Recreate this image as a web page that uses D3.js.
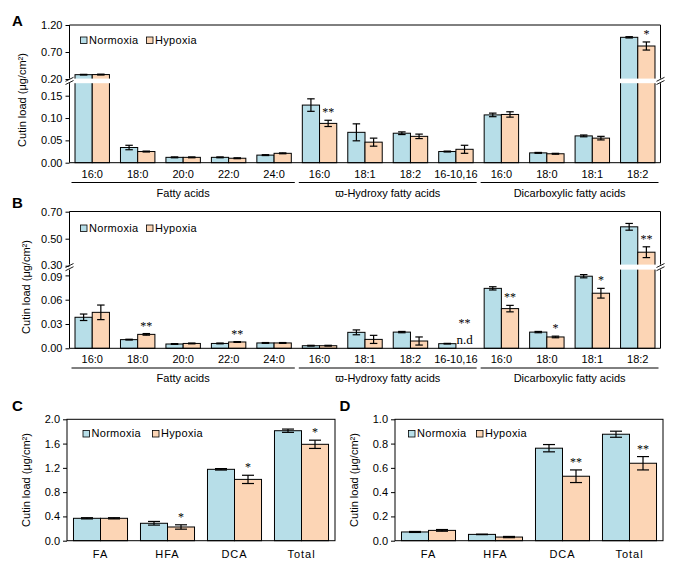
<!DOCTYPE html>
<html><head><meta charset="utf-8">
<script src="https://cdn.jsdelivr.net/npm/d3@7"></script>
<style>body{margin:0;background:#fff}</style>
</head><body>
<svg id="c" width="677" height="567"></svg>
<script>
// ---------- data ----------
const groupNames = ["Fatty acids", "ϖ-Hydroxy fatty acids", "Dicarboxylic fatty acids"];
const monomers = ["16:0","18:0","20:0","22:0","24:0","16:0","18:1","18:2","16-10,16","16:0","18:0","18:1","18:2"];
const monomerGroup = [0,0,0,0,0,1,1,1,1,2,2,2,2];
const seriesNames = ["Normoxia","Hypoxia"];

// Panel A
const aNorm    = [0.280,0.034,0.012,0.012,0.017,0.129,0.068,0.066,0.025,0.107,0.022,0.060,0.972];
const aNormErr = [0.006,0.005,0.001,0.001,0.001,0.014,0.019,0.003,0.001,0.004,0.001,0.002,0.012];
const aHyp     = [0.282,0.025,0.012,0.010,0.021,0.088,0.046,0.059,0.030,0.108,0.020,0.055,0.811];
const aHypErr  = [0.008,0.001,0.001,0.001,0.001,0.007,0.009,0.005,0.009,0.006,0.001,0.004,0.075];
const aSig     = ["","","","","","**","","","","","","","*"];
const aTicksLow = [0,0.05,0.10,0.15];
const aTicksUp  = [0.20,0.70,1.20];

// Panel B
const bNorm    = [0.0383,0.0107,0.0053,0.0060,0.0066,0.0032,0.0197,0.0200,0.0057,0.0740,0.0200,0.0890,0.588];
const bNormErr = [0.0040,0.0005,0.0005,0.0005,0.0005,0.0005,0.0030,0.0008,0.0004,0.0020,0.0008,0.0020,0.025];
const bHyp     = [0.0444,0.0172,0.0060,0.0078,0.0066,0.0032,0.0110,0.0090,null,0.0490,0.0140,0.0680,0.400];
const bHypErr  = [0.0090,0.0010,0.0005,0.0005,0.0005,0.0005,0.0050,0.0050,null,0.0040,0.0010,0.0060,0.040];
const bSig     = ["","**","","**","","","","","**","**","*","*","**"];
const bTicksLow = [0,0.03,0.06,0.09];
const bTicksUp  = [0.30,0.50,0.70];

// Panels C and D
const classes = ["FA","HFA","DCA","Total"];
const cNorm    = [0.369,0.287,1.176,1.812];
const cNormErr = [0.010,0.030,0.012,0.027];
const cHyp     = [0.369,0.226,1.010,1.588];
const cHypErr  = [0.010,0.036,0.068,0.068];
const cSig     = ["","*","*","*"];
const cTicks   = [0,0.4,0.8,1.2,1.6,2.0];

const dNorm    = [0.072,0.052,0.762,0.877];
const dNormErr = [0.004,0.002,0.030,0.025];
const dHyp     = [0.085,0.030,0.531,0.638];
const dHypErr  = [0.007,0.005,0.052,0.055];
const dSig     = ["","","**","**"];
const dTicks   = [0,0.2,0.4,0.6,0.8,1.0];

// ---------- drawing ----------
const BLUE = "#b7dee8", ORANGE = "#fcd5b5";
const SANS = "'Liberation Sans', Arial, sans-serif";
const SERIF = "'Liberation Serif', 'Times New Roman', serif";
const svg = d3.select("#c");
svg.append("rect").attr("width",677).attr("height",567).attr("fill","#fff");

function drawPanel(o){
  const g = svg.append("g");
  const n = o.cats.length;
  const x0 = d3.scaleBand().domain(d3.range(n)).range([o.left,o.right]);
  const x1 = d3.scaleBand().domain(seriesNames).range([0,x0.bandwidth()]).paddingOuter(o.outer);
  const low = d3.scaleLinear().domain(o.lowDom).range(o.lowRange);
  const up = o.upDom ? d3.scaleLinear().domain(o.upDom).range(o.upRange) : null;
  const y = v => (up && v > o.split) ? up(v) : low(v);

  const series = [
    {name:"Normoxia", vals:o.norm, err:o.normErr, fill:BLUE},
    {name:"Hypoxia", vals:o.hyp, err:o.hypErr, fill:ORANGE}
  ];
  series.forEach(s=>{
    const data = s.vals.map((v,i)=>({v, e:s.err[i], i})).filter(d=>d.v!=null);
    const sg = g.append("g");
    sg.selectAll("rect").data(data).join("rect")
      .attr("x", d=>x0(d.i)+x1(s.name))
      .attr("width", x1.bandwidth())
      .attr("y", d=>y(d.v))
      .attr("height", d=>y(0)-y(d.v))
      .attr("fill", s.fill).attr("stroke","#000").attr("stroke-width",1);
    const eg = sg.selectAll("g.err").data(data).join("g").attr("class","err");
    const cx = d=>x0(d.i)+x1(s.name)+x1.bandwidth()/2;
    eg.append("line").attr("x1",cx).attr("x2",cx)
      .attr("y1",d=>y(d.v+d.e)).attr("y2",d=>y(Math.max(0,d.v-d.e)))
      .attr("stroke","#000").attr("stroke-width",1.2);
    [1,-1].forEach(sgn=>{
      eg.append("line").attr("x1",d=>cx(d)-o.cap/2).attr("x2",d=>cx(d)+o.cap/2)
        .attr("y1",d=>y(Math.max(0,d.v+sgn*d.e))).attr("y2",d=>y(Math.max(0,d.v+sgn*d.e)))
        .attr("stroke","#000").attr("stroke-width",1.2);
    });
  });

  // white break band
  if (o.band){
    g.append("rect").attr("x",o.left-6).attr("width",o.right-o.left+12)
      .attr("y",o.band[0]).attr("height",o.band[1]-o.band[0]).attr("fill","#fff");
  }

  // frame
  const top = o.top, bottom = o.lowRange[0];
  if (o.band){
    [[top,o.band[0]],[o.band[1],bottom]].forEach(([a,b])=>{
      [o.left,o.right].forEach(xx=>g.append("line").attr("x1",xx).attr("x2",xx).attr("y1",a).attr("y2",b).attr("stroke","#000"));
    });
    g.append("line").attr("x1",o.left).attr("x2",o.right).attr("y1",top).attr("y2",top).attr("stroke","#000");
    g.append("line").attr("x1",o.left).attr("x2",o.right).attr("y1",bottom).attr("y2",bottom).attr("stroke","#000");
    const yc = (o.band[0]+o.band[1])/2;
    [o.left,o.right].forEach(xx=>{
      [-1.6,1.6].forEach(k=>{
        g.append("line").attr("x1",xx-4).attr("x2",xx+4)
          .attr("y1",yc+k+2).attr("y2",yc+k-2).attr("stroke","#000").attr("stroke-width",0.9);
      });
    });
  } else {
    g.append("rect").attr("x",o.left).attr("y",top).attr("width",o.right-o.left).attr("height",bottom-top)
      .attr("fill","none").attr("stroke","#000");
  }

  // y axes
  const fmt = d3.format(o.fmt);
  const axes = [[low,o.lowTicks,o.lowTopShift||0,"low"],];
  if (up) axes.push([up,o.upTicks,o.upBottomShift||0,"up"]);
  axes.forEach(([sc,tv,shift,kind])=>{
    const ax = g.append("g").attr("transform",`translate(${o.left},0)`)
      .call(d3.axisLeft(sc).tickValues(tv).tickFormat(fmt).tickSize(4).tickPadding(3));
    ax.select(".domain").remove();
    ax.selectAll("text").attr("font-family",SANS).attr("font-size",11).attr("fill","#000");
    ax.selectAll("line").attr("stroke","#000");
    // nudge the labels nearest the break apart slightly
    if (shift){
      const edge = kind==="low" ? d3.max(tv) : d3.min(tv);
      ax.selectAll(".tick").filter(d=>d===edge).select("text").attr("y",shift);
    }
  });

  // category labels
  g.selectAll("text.cat").data(o.cats).join("text").attr("class","cat")
    .attr("x",(d,i)=>x0(i)+x0.bandwidth()/2).attr("y",o.catY)
    .attr("text-anchor","middle").attr("font-family",SANS).attr("font-size",11)
    .attr("letter-spacing",o.catSpacing||0).attr("fill","#000").text(d=>d);

  // groups
  if (o.groups){
    groupNames.forEach((gn,gi)=>{
      const idx = o.groups.map((v,i)=>v===gi?i:-1).filter(i=>i>=0);
      const a = x0(idx[0]), b = x0(idx[idx.length-1])+x0.bandwidth();
      g.append("line").attr("x1",a+2).attr("x2",b-2).attr("y1",o.groupLineY).attr("y2",o.groupLineY)
        .attr("stroke","#000").attr("stroke-width",1);
      g.append("text").attr("x",(a+b)/2).attr("y",o.groupLabelY).attr("text-anchor","middle")
        .attr("font-family",SANS).attr("font-size",11).attr("fill","#000").text(gn);
    });
  }

  // significance
  o.sig.forEach((s,i)=>{
    if(!s) return;
    const cx = x0(i)+x1("Hypoxia")+x1.bandwidth()/2;
    let yy;
    if (o.hyp[i]==null) yy = o.ndStarY;
    else yy = y(o.hyp[i]+o.hypErr[i]) - 4;
    g.append("text").attr("x",cx).attr("y",yy).attr("text-anchor","middle")
      .attr("font-family",SERIF).attr("font-size",12).attr("fill","#000").text(s);
  });
  o.hyp.forEach((v,i)=>{
    if (v!=null) return;
    const cx = x0(i)+x1("Hypoxia")+x1.bandwidth()/2;
    g.append("text").attr("x",cx).attr("y",y(0)-4).attr("text-anchor","middle")
      .attr("font-family",SERIF).attr("font-size",13).attr("fill","#000").text("n.d");
  });

  // legend
  [[o.leg[0],BLUE,"Normoxia"],[o.leg[1],ORANGE,"Hypoxia"]].forEach(([lx,col,txt])=>{
    g.append("rect").attr("x",lx).attr("y",o.legY-6.5).attr("width",6.5).attr("height",6.5)
      .attr("fill",col).attr("stroke","#000").attr("stroke-width",0.8);
    g.append("text").attr("x",lx+8.5).attr("y",o.legY).attr("font-family",SANS).attr("font-size",11)
      .attr("letter-spacing",0.3).attr("fill","#000").text(txt);
  });

  // y title
  g.append("text").attr("transform",`translate(${o.titleX},${o.titleY}) rotate(-90)`)
    .attr("text-anchor","middle").attr("font-family",SANS).attr("font-size",11).attr("fill","#000")
    .text("Cutin load (μg/cm²)");

  // letter
  g.append("text").attr("x",o.letterX).attr("y",o.letterY).attr("font-family",SANS)
    .attr("font-size",15).attr("font-weight","bold").attr("fill","#000").text(o.letter);
}

drawPanel({
  letter:"A", letterX:12, letterY:25.5,
  cats:monomers, groups:monomerGroup,
  norm:aNorm, normErr:aNormErr, hyp:aHyp, hypErr:aHypErr, sig:aSig,
  left:69.5, right:660.5, top:25, outer:0.32, cap:7.5,
  lowDom:[0,0.15], lowRange:[162.7,95.7], upDom:[0.2,1.2], upRange:[79,25], split:0.19,
  lowTicks:aTicksLow, upTicks:aTicksUp, fmt:".2f", band:[78.6,83.2],
  catY:178, groupLineY:182.5, groupLabelY:197,
  leg:[80.5,146.5], legY:43.5, titleX:26, titleY:100
});

drawPanel({
  letter:"B", letterX:12, letterY:207.5,
  cats:monomers, groups:monomerGroup,
  norm:bNorm, normErr:bNormErr, hyp:bHyp, hypErr:bHypErr, sig:bSig,
  left:69.5, right:660.5, top:211.5, outer:0.32, cap:7.5,
  lowDom:[0,0.09], lowRange:[348.3,275.4], upDom:[0.3,0.7], upRange:[265.7,211.7], split:0.2,
  lowTicks:bTicksLow, upTicks:bTicksUp, fmt:".2f", band:[264.6,269.6], ndStarY:327,
  lowTopShift:1.2, upBottomShift:-1.2,
  catY:362.5, groupLineY:368, groupLabelY:382,
  leg:[80.5,146.5], legY:231.5, titleX:30, titleY:287
});

drawPanel({
  letter:"C", letterX:12, letterY:411,
  cats:classes, groups:null,
  norm:cNorm, normErr:cNormErr, hyp:cHyp, hypErr:cHypErr, sig:cSig,
  left:67, right:335, top:419.3, outer:0.24, cap:12,
  lowDom:[0,2], lowRange:[540.7,419.3],
  lowTicks:cTicks, fmt:".1f", catSpacing:1,
  catY:557.5,
  leg:[83,152.5], legY:437, titleX:30, titleY:480
});

drawPanel({
  letter:"D", letterX:339.5, letterY:411,
  cats:classes, groups:null,
  norm:dNorm, normErr:dNormErr, hyp:dHyp, hypErr:dHypErr, sig:dSig,
  left:395, right:663, top:419.3, outer:0.24, cap:12,
  lowDom:[0,1], lowRange:[540.7,419.3],
  lowTicks:dTicks, fmt:".1f", catSpacing:1,
  catY:557.5,
  leg:[408.5,476.5], legY:437, titleX:358, titleY:480
});
</script>
</body></html>
